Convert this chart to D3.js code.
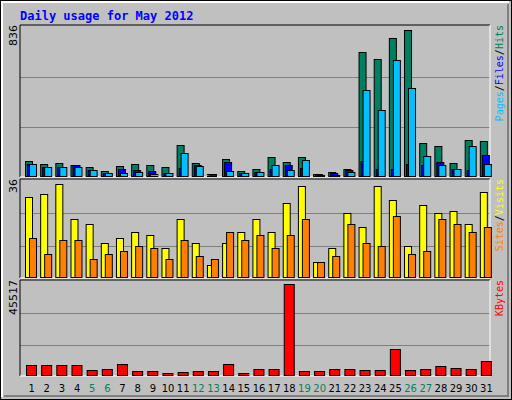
<!DOCTYPE html><html><head><script src="https://cdn.jsdelivr.net/npm/d3@7"></script>
<style>body{margin:0}svg{display:block}</style></head><body><script>
const days=d3.range(1,32);
const weekend=[5,6,12,13,19,20,26,27];
const hits=[87,71,76,65,54,32,61,71,65,54,177,76,15,99,32,43,110,82,110,15,26,43,696,657,773,818,188,171,76,205,199];
const files=[71,55,55,65,37,20,43,37,32,20,48,65,15,82,20,26,43,65,48,15,20,37,87,43,43,71,65,82,43,37,121];
const pages=[71,54,54,54,37,20,20,26,15,20,132,60,4,32,20,26,65,37,93,9,9,26,487,372,651,495,115,65,43,171,71];
const visits=[30,31,35,22,20,13,15,17,16,11,22,13,5,13,17,22,17,28,34,6,11,24,19,34,29,12,27,24,25,20,32];
const sites=[15,9,14,14,7,9,10,12,11,7,14,8,7,17,14,16,11,16,22,6,8,20,13,12,23,9,10,22,20,17,19];
const kbytes=[5380,5380,5380,5380,2934,3423,5868,2445,2445,1467,1956,2445,2445,5868,1467,3423,3423,44500,2445,2445,3423,3423,2934,2934,13200,2934,3423,4890,3912,3423,7335];
const maxHits=836,maxVisits=36,maxKB=45517;
const W=512,H=400,L=20,R=490;
const svg=d3.select("body").append("svg").attr("width",W).attr("height",H);
svg.append("rect").attr("width",W).attr("height",H).attr("fill","#c0c0c0");
svg.append("rect").attr("x",0.5).attr("y",0.5).attr("width",W-1).attr("height",H-1).attr("fill","none").attr("stroke","#000");
svg.append("path").attr("d",`M2,${H-3}V2H${W-3}`).attr("stroke","#fff").attr("fill","none").attr("stroke-width",2);
svg.append("path").attr("d",`M4,${H-4}H${W-4}V4`).attr("stroke","#808080").attr("fill","none").attr("stroke-width",2);
svg.append("text").attr("x",20).attr("y",20).text("Daily usage for May 2012").attr("fill","#0000ff").attr("font-family","DejaVu Sans Mono").attr("font-weight","bold").attr("font-size",12);
const x=d3.scaleBand().domain(days).range([L,R]);
function panel(y0,y1,max,label,rlabels){
  svg.append("rect").attr("x",L).attr("y",y0).attr("width",R-L).attr("height",y1-y0).attr("fill","#c0c0c0");
  const y=d3.scaleLinear().domain([0,max]).range([y1,y0+2]);
  [1/3,2/3].forEach(f=>svg.append("line").attr("x1",L).attr("x2",R).attr("y1",Math.round(y(max*f))+.5).attr("y2",Math.round(y(max*f))+.5).attr("stroke","#808080"));
  svg.append("path").attr("d",`M${L},${y1}V${y0}H${R}`).attr("stroke","#000").attr("fill","none");
  svg.append("path").attr("d",`M${R},${y0}V${y1}H${L}`).attr("stroke","#fff").attr("fill","none");
  svg.append("text").attr("transform",`translate(17,${y0})rotate(-90)`).attr("text-anchor","end").text(label).attr("font-family","DejaVu Sans").attr("font-size",11);
  const t2=svg.append("text").attr("transform",`translate(503,${y0})rotate(-90)`).attr("text-anchor","end").attr("font-family","DejaVu Sans Mono").attr("font-size",10);
  rlabels.forEach((r,i)=>{ if(i) t2.append("tspan").text("/").attr("fill","#000"); t2.append("tspan").text(r[0]).attr("fill",r[1]);});
  return y;
}
function bars(y,data,dx,w,col){
  svg.append("g").selectAll("rect").data(data).join("rect")
   .attr("x",(d,i)=>x(days[i])+dx+.5).attr("y",d=>Math.round(y(d))+.5).attr("width",w).attr("height",d=>Math.max(0,y(0)-Math.round(y(d))-1))
   .attr("fill",col).attr("stroke","#000");
}
const y1=panel(25,177,maxHits,"836",[["Pages","#00c0ff"],["Files","#0000ff"],["Hits","#008060"]]);
bars(y1,hits,5,7,"#008060");bars(y1,files,7,7,"#0000ff");bars(y1,pages,9,7,"#00c0ff");
const y2=panel(179,278,maxVisits,"36",[["Sites","#ff8000"],["Visits","#ffff00"]]);
bars(y2,visits,5,7,"#ffff00");bars(y2,sites,9,7,"#ff8000");
const y3=panel(280,376,maxKB,"45517",[["KBytes","#ff0000"]]);
bars(y3,kbytes,6,10,"#ff0000");
svg.append("g").selectAll("text").data(days).join("text").attr("x",d=>x(d)+x.bandwidth()/2+4).attr("y",392).attr("text-anchor","middle")
  .text(d=>d).attr("font-family","DejaVu Sans").attr("font-size",10).attr("fill",d=>weekend.includes(d)?"#008060":"#000");
</script></body></html>
